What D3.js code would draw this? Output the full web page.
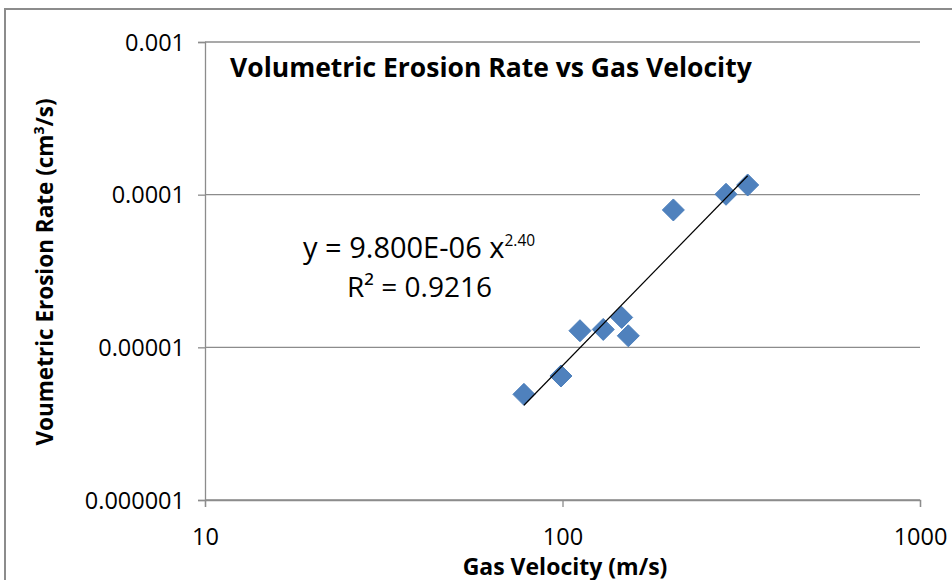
<!DOCTYPE html>
<html>
<head>
<meta charset="utf-8">
<script src="https://cdn.jsdelivr.net/npm/d3@7"></script>
<style>
  body { margin: 0; background: #fff; }
  text { font-family: "Open Sans", Lato, sans-serif; fill: #000; }
</style>
</head>
<body>
<div class="chart"></div>
<script>
var svgWidth = 952;
var svgHeight = 580;

var margin = { top: 42, right: 32, bottom: 80, left: 205 };
var width = svgWidth - margin.left - margin.right;
var height = svgHeight - margin.top - margin.bottom;

// gas velocity (m/s) and erosion rate (cm3/s)
var velocity = [78.0, 99.0, 111.9, 130.0, 146.4, 152.8, 204.2, 286.7, 329.6];
var erosion = [4.92e-6, 6.49e-6, 1.285e-5, 1.31e-5, 1.57e-5, 1.19e-5, 7.94e-5, 1.006e-4, 1.157e-4];

var xTicks = [10, 100, 1000];
var yTicks = [0.000001, 0.00001, 0.0001, 0.001];
var yTickLabels = ["0.000001", "0.00001", "0.0001", "0.001"];

var data = velocity.map((v, i) => ({ x: v, y: erosion[i] }));

var svg = d3.select(".chart")
  .append("svg")
  .attr("width", svgWidth)
  .attr("height", svgHeight);

// outer chart frame
svg.append("rect")
  .attr("x", 5)
  .attr("y", 9)
  .attr("width", 960)
  .attr("height", 600)
  .attr("fill", "none")
  .attr("stroke", "#8c8c8c")
  .attr("stroke-width", 2);

var chartGroup = svg.append("g")
  .attr("transform", `translate(${margin.left}, ${margin.top})`);

var xScale = d3.scaleLog().domain([10, 1000]).range([0, width]);
var yScale = d3.scaleLog().domain([0.000001, 0.001]).range([height, 0]);

// horizontal gridlines
chartGroup.selectAll(".grid")
  .data(yTicks)
  .enter()
  .append("line")
  .attr("x1", 0)
  .attr("x2", width)
  .attr("y1", d => yScale(d))
  .attr("y2", d => yScale(d))
  .attr("stroke", "#8c8c8c")
  .attr("stroke-width", 1.3);

var leftAxis = d3.axisLeft(yScale)
  .tickValues(yTicks)
  .tickSize(7)
  .tickPadding(13)
  .tickFormat((d, i) => yTickLabels[i]);

var bottomAxis = d3.axisBottom(xScale)
  .tickValues(xTicks)
  .tickSize(7)
  .tickPadding(21)
  .tickFormat(d3.format("d"));

var yAxisG = chartGroup.append("g").call(leftAxis);
var xAxisG = chartGroup.append("g")
  .attr("transform", `translate(0, ${height})`)
  .call(bottomAxis);

[yAxisG, xAxisG].forEach(function(g) {
  g.select(".domain").attr("stroke", "#8c8c8c").attr("stroke-width", 1.3);
  g.selectAll(".tick line").attr("stroke", "#8c8c8c").attr("stroke-width", 1.3);
  g.selectAll(".tick text")
    .attr("font-size", 23.5)
    .attr("fill", "#000");
});
yAxisG.selectAll(".tick text").attr("dy", "0.35em");

// power trendline fitted in log-log space
var lx = velocity.map(Math.log10);
var ly = erosion.map(Math.log10);
var mx = d3.mean(lx), my = d3.mean(ly);
var slope = d3.sum(lx, (v, i) => (v - mx) * (ly[i] - my)) / d3.sum(lx, v => (v - mx) * (v - mx));
var intercept = my - slope * mx;
var xExtent = d3.extent(velocity);
var trend = xExtent.map(v => ({ x: v, y: Math.pow(10, intercept + slope * Math.log10(v)) }));

// markers
chartGroup.selectAll(".pt")
  .data(data)
  .enter()
  .append("path")
  .attr("class", "pt")
  .attr("transform", d => `translate(${xScale(d.x)}, ${yScale(d.y)})`)
  .attr("d", "M0,-11L11,0L0,11L-11,0Z")
  .attr("fill", "#4f81bd")
  .attr("stroke", "#4a7ebb")
  .attr("stroke-width", 1);

chartGroup.append("path")
  .datum(trend)
  .attr("d", d3.line().x(d => xScale(d.x)).y(d => yScale(d.y)))
  .attr("fill", "none")
  .attr("stroke", "#000")
  .attr("stroke-width", 1.2);

// title
svg.append("text")
  .attr("x", 230)
  .attr("y", 77)
  .attr("font-size", 26.5)
  .attr("font-weight", "bold")
  .text("Volumetric Erosion Rate vs Gas Velocity");

// trendline equation
var eq = svg.append("text")
  .attr("x", 303)
  .attr("y", 258)
  .attr("font-size", 29);
eq.append("tspan").text("y = 9.800E-06 x");
eq.append("tspan").attr("dy", -12).attr("font-size", 15.5).text("2.40");

svg.append("text")
  .attr("x", 347)
  .attr("y", 297)
  .attr("font-size", 28)
  .text("R² = 0.9216");

// axis titles
svg.append("text")
  .attr("x", 565)
  .attr("y", 575)
  .attr("text-anchor", "middle")
  .attr("font-size", 23)
  .attr("font-weight", "bold")
  .text("Gas Velocity (m/s)");

var yTitle = svg.append("text")
  .attr("transform", "translate(53, 272) rotate(-90)")
  .attr("text-anchor", "middle")
  .attr("font-size", 22.5)
  .attr("font-weight", "bold");
yTitle.append("tspan").text("Voumetric Erosion Rate (cm");
yTitle.append("tspan").attr("dy", -9).attr("font-size", 14).text("3");
yTitle.append("tspan").attr("dy", 9).text("/s)");
</script>
</body>
</html>
